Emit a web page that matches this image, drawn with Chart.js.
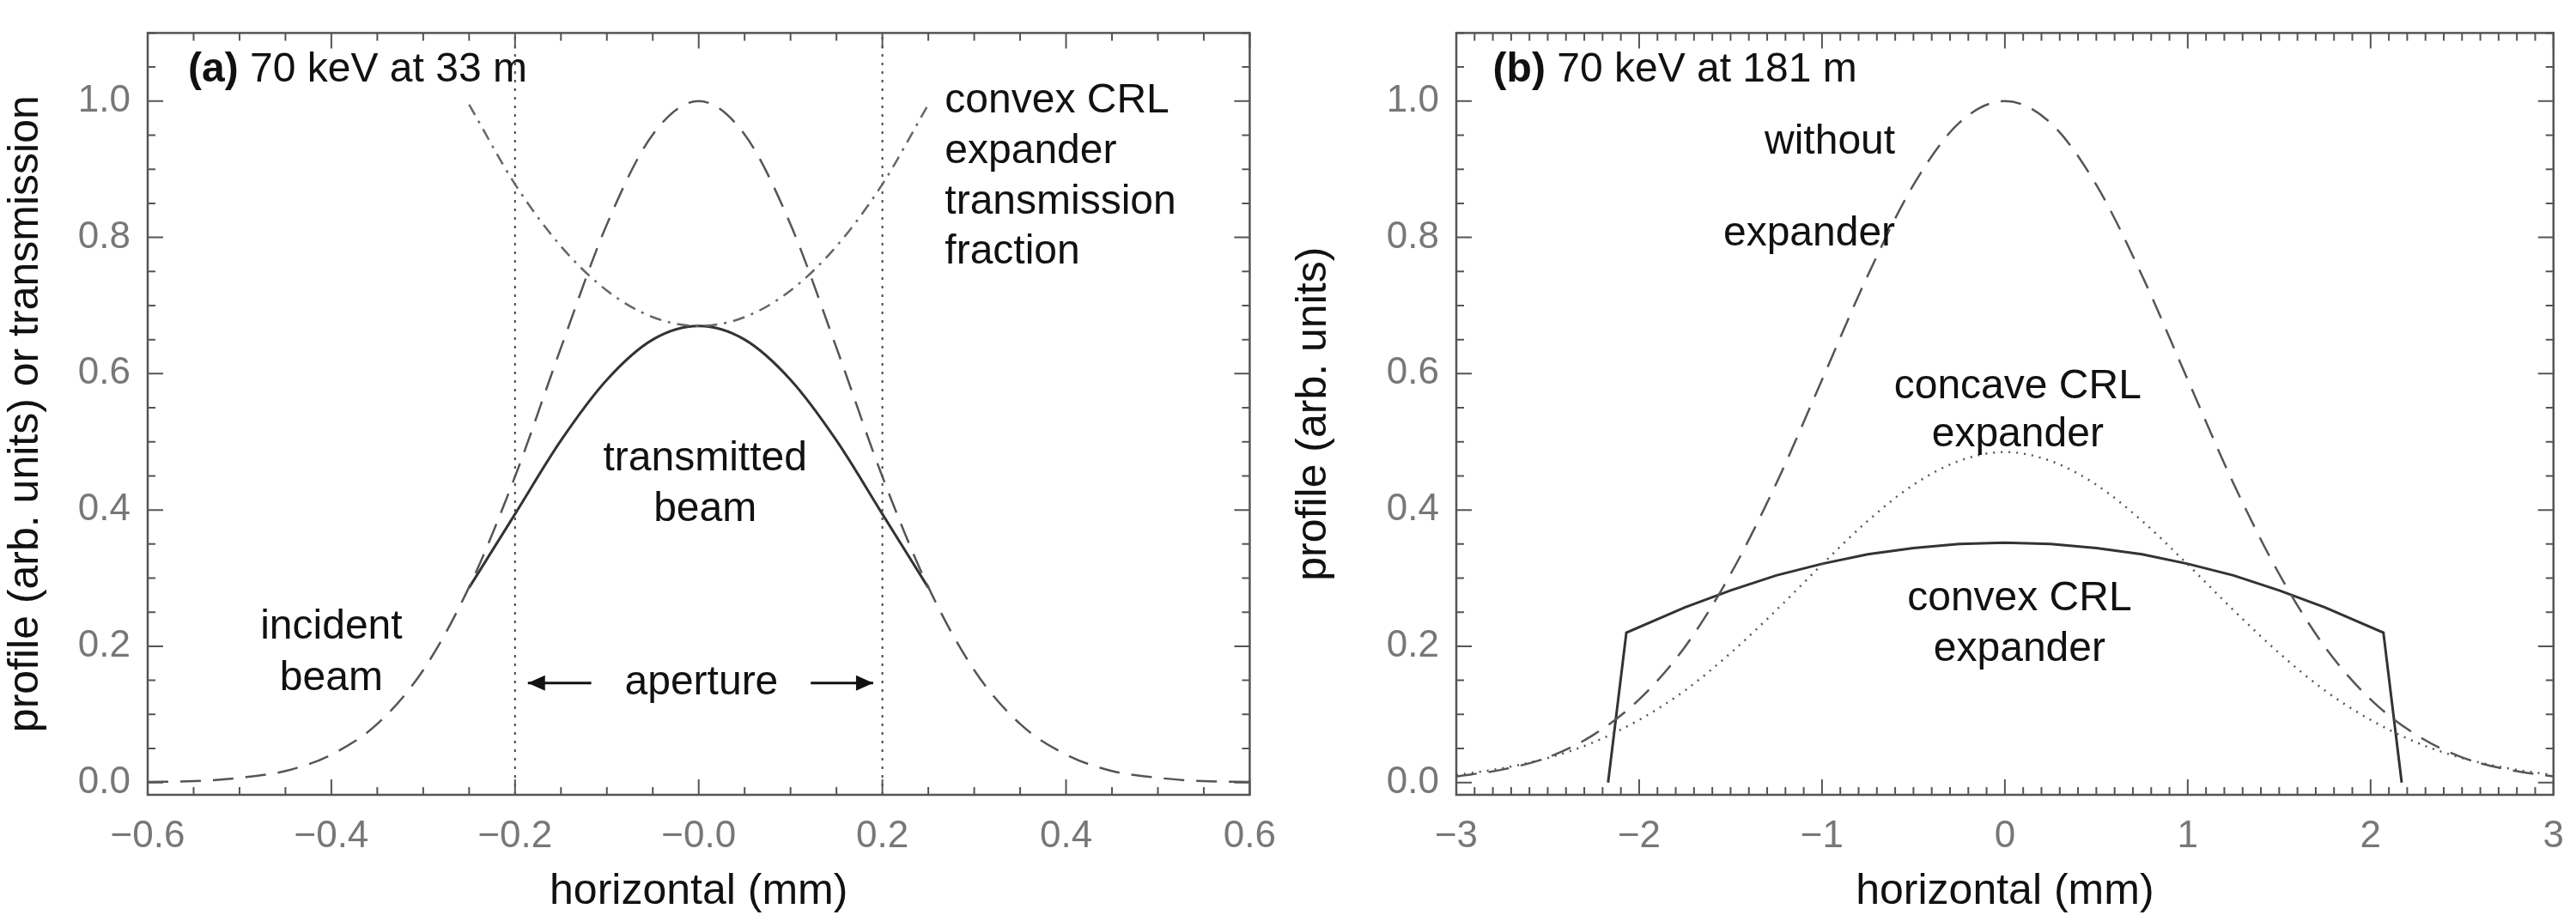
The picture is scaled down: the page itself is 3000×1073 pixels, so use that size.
<!DOCTYPE html>
<html>
<head>
<meta charset="utf-8">
<script src="https://cdn.jsdelivr.net/npm/chart.js@4/dist/chart.umd.min.js"></script>
<style>
  body { margin: 0; background: #fff; }
  .panel { position: absolute; top: 0; width: 1500px; height: 1073px; }
</style>
</head>
<body>
<div class="panel" style="left:0"><canvas id="chartA"></canvas></div>
<div class="panel" style="left:1500px"><canvas id="chartB"></canvas></div>
<script>
// ---- panel (a): 70 keV at 33 m ----
const xIncident = [-0.6,-0.55,-0.5,-0.45,-0.4,-0.35,-0.3,-0.25,-0.2,-0.15,-0.1,-0.05,0,0.05,0.1,0.15,0.2,0.25,0.3,0.35,0.4,0.45,0.5,0.55,0.6];
const incident = [0.001,0.002,0.007,0.017,0.041,0.086,0.165,0.287,0.449,0.638,0.819,0.951,1,0.951,0.819,0.638,0.449,0.287,0.165,0.086,0.041,0.017,0.007,0.002,0.001];
const xTrans = [-0.25,-0.2,-0.15,-0.1,-0.05,0,0.05,0.1,0.15,0.2,0.25];
const transFraction = [0.995,0.878,0.787,0.722,0.683,0.67,0.683,0.722,0.787,0.878,0.995];
const transmitted = [0.286,0.394,0.502,0.591,0.650,0.67,0.650,0.591,0.502,0.394,0.286];
const apertureEdges = [-0.2, 0.2];
const xTicksA = [-0.6,-0.4,-0.2,0,0.2,0.4,0.6];
const xLabelsA = ['\u22120.6','\u22120.4','\u22120.2','\u22120.0','0.2','0.4','0.6'];

// ---- panel (b): 70 keV at 181 m ----
const xB = [-3,-2.75,-2.5,-2.25,-2,-1.75,-1.5,-1.25,-1,-0.75,-0.5,-0.25,0,0.25,0.5,0.75,1,1.25,1.5,1.75,2,2.25,2.5,2.75,3];
const withoutExpander = [0.009,0.019,0.037,0.070,0.122,0.199,0.306,0.439,0.591,0.744,0.877,0.968,1,0.968,0.877,0.744,0.591,0.439,0.306,0.199,0.122,0.070,0.037,0.019,0.009];
const concaveCRL = [0.011,0.021,0.036,0.059,0.092,0.135,0.190,0.253,0.320,0.384,0.437,0.472,0.485,0.472,0.437,0.384,0.320,0.253,0.190,0.135,0.092,0.059,0.036,0.021,0.011];
const xConvex = [-2.17,-2.07,-1.75,-1.5,-1.25,-1,-0.75,-0.5,-0.25,0,0.25,0.5,0.75,1,1.25,1.5,1.75,2.07,2.17];
const convexCRL = [0,0.220,0.257,0.282,0.304,0.321,0.335,0.344,0.350,0.352,0.350,0.344,0.335,0.321,0.304,0.282,0.257,0.220,0];
const xTicksB = [-3,-2,-1,0,1,2,3];
const xLabelsB = ['\u22123','\u22122','\u22121','0','1','2','3'];

const yTicks = [0,0.2,0.4,0.6,0.8,1.0];

const pts = (xs, ys) => xs.map((x, i) => ({ x: x, y: ys[i] }));
const NARROW = '"Liberation Sans Narrow", "Liberation Sans", Arial, sans-serif';

// inward ticks on all four sides + frame
const framePlugin = {
  id: 'frame',
  afterDraw(chart, args, o) {
    const { ctx, chartArea: a, scales: { x, y } } = chart;
    ctx.save();
    ctx.strokeStyle = '#555';
    ctx.lineWidth = 2.5;
    ctx.strokeRect(a.left, a.top, a.right - a.left, a.bottom - a.top);
    const tick = (v, len, isX) => {
      ctx.beginPath();
      if (isX) {
        const p = x.getPixelForValue(v);
        ctx.moveTo(p, a.bottom); ctx.lineTo(p, a.bottom - len);
        ctx.moveTo(p, a.top); ctx.lineTo(p, a.top + len);
      } else {
        const p = y.getPixelForValue(v);
        ctx.moveTo(a.left, p); ctx.lineTo(a.left + len, p);
        ctx.moveTo(a.right, p); ctx.lineTo(a.right - len, p);
      }
      ctx.stroke();
    };
    ctx.lineWidth = 2;
    for (let i = 0; i <= o.xMinorN; i++) {
      const v = o.xMin + i * o.xMinor;
      const major = Math.abs(v / o.xMajor - Math.round(v / o.xMajor)) < 1e-6;
      tick(v, major ? 18 : 9, true);
    }
    for (let i = 0; i <= 22; i++) {
      const v = i * 0.05;
      const major = i % 4 === 0;
      tick(v, major ? 18 : 9, false);
    }
    ctx.fillStyle = '#111';
    ctx.textBaseline = 'middle';
    (o.notes || []).forEach(n => {
      ctx.textAlign = n.align || 'left';
      ctx.font = '48px ' + NARROW;
      const px = x.getPixelForValue(n.x), py = y.getPixelForValue(n.y);
      if (n.bold) {
        ctx.font = 'bold 48px ' + NARROW;
        ctx.fillText(n.bold, px, py);
        const w = ctx.measureText(n.bold + ' ').width;
        ctx.font = '48px ' + NARROW;
        ctx.fillText(n.text, px + w, py);
      } else {
        ctx.fillText(n.text, px, py);
      }
    });
    (o.arrows || []).forEach(ar => {
      const x1 = x.getPixelForValue(ar.from), x2 = x.getPixelForValue(ar.to), py = y.getPixelForValue(ar.y);
      ctx.strokeStyle = '#111'; ctx.lineWidth = 3;
      ctx.beginPath(); ctx.moveTo(x1, py); ctx.lineTo(x2, py); ctx.stroke();
      const d = Math.sign(x2 - x1);
      ctx.beginPath(); ctx.moveTo(x2, py); ctx.lineTo(x2 - d * 20, py - 9); ctx.lineTo(x2 - d * 20, py + 9); ctx.closePath(); ctx.fill();
    });
    ctx.restore();
  }
};

function line(data, dash, color, width, tension) {
  return { data: data, borderColor: color, borderWidth: width, borderDash: dash, pointRadius: 0,
    fill: false, tension: tension, cubicInterpolationMode: tension ? 'monotone' : 'default' };
}

function makeChart(id, datasets, xMin, xMax, xTicks, xLabels, yTitle, yWidth, padRight, frameOpts) {
  return new Chart(document.getElementById(id), {
    type: 'line',
    data: { datasets: datasets },
    options: {
      responsive: true, maintainAspectRatio: false, animation: false,
      layout: { padding: { top: 3, right: padRight, left: 0, bottom: 0 } },
      plugins: { legend: { display: false }, tooltip: { enabled: false }, frame: frameOpts },
      scales: {
        x: {
          type: 'linear', min: xMin, max: xMax,
          afterBuildTicks: s => { s.ticks = xTicks.map(v => ({ value: v })); },
          afterFit: s => { s.height = 147; },
          grid: { display: false }, border: { display: false },
          ticks: { color: '#777', padding: 14, maxRotation: 0, autoSkip: false,
            font: { size: 44, family: NARROW },
            callback: (v) => { const i = xTicks.findIndex(t => Math.abs(t - v) < 1e-6); return i >= 0 ? xLabels[i] : ''; } },
          title: { display: true, text: 'horizontal (mm)', color: '#111', padding: { top: 0 },
            font: { size: 50, family: '"Liberation Sans", Arial, sans-serif' } }
        },
        y: {
          type: 'linear', min: -0.018, max: 1.1,
          afterBuildTicks: s => { s.ticks = yTicks.map(v => ({ value: v })); },
          afterFit: s => { s.width = yWidth; },
          grid: { display: false }, border: { display: false },
          ticks: { color: '#777', padding: 12, font: { size: 44, family: NARROW },
            callback: v => v.toFixed(1) },
          title: { display: true, text: yTitle, color: '#111', padding: 0,
            font: { size: 50, family: '"Liberation Sans", Arial, sans-serif' } }
        }
      }
    },
    plugins: [framePlugin]
  });
}

makeChart('chartA', [
  line(pts(xIncident, incident), [24, 14], '#555', 2.5, 0.4),
  line(pts(xTrans, transFraction), [14, 8, 3, 8], '#666', 2.5, 0.4),
  line(pts(xTrans, transmitted), [], '#333', 3, 0.4),
  line(pts([apertureEdges[0], apertureEdges[0]], [-0.018, 1.1]), [3, 7], '#444', 2, 0),
  line(pts([apertureEdges[1], apertureEdges[1]], [-0.018, 1.1]), [3, 7], '#444', 2, 0)
], -0.6, 0.6, xTicksA, xLabelsA, 'profile (arb. units) or transmission', 172, 31, {
  xMin: -0.6, xMinor: 0.05, xMinorN: 24, xMajor: 0.2,
  notes: [
    { x: -0.556, y: 1.045, bold: '(a)', text: '70 keV at 33 m' },
    { x: 0.268, y: 1.0, text: 'convex CRL' },
    { x: 0.268, y: 0.926, text: 'expander' },
    { x: 0.268, y: 0.852, text: 'transmission' },
    { x: 0.268, y: 0.778, text: 'fraction' },
    { x: 0.007, y: 0.475, text: 'transmitted', align: 'center' },
    { x: 0.007, y: 0.40, text: 'beam', align: 'center' },
    { x: -0.40, y: 0.228, text: 'incident', align: 'center' },
    { x: -0.40, y: 0.152, text: 'beam', align: 'center' },
    { x: 0.003, y: 0.146, text: 'aperture', align: 'center' }
  ],
  arrows: [ { from: -0.117, to: -0.186, y: 0.146 }, { from: 0.122, to: 0.19, y: 0.146 } ]
});

makeChart('chartB', [
  line(pts(xB, withoutExpander), [24, 14], '#555', 2.5, 0.4),
  line(pts(xB, concaveCRL), [2, 7], '#555', 2.5, 0.4),
  line(pts(xConvex, convexCRL), [], '#333', 3, 0)
], -3, 3, xTicksB, xLabelsB, 'profile (arb. units)', 196, 22, {
  xMin: -3, xMinor: 0.1, xMinorN: 60, xMajor: 1,
  notes: [
    { x: -2.8, y: 1.045, bold: '(b)', text: '70 keV at 181 m' },
    { x: -0.60, y: 0.94, text: 'without', align: 'right' },
    { x: -0.60, y: 0.805, text: 'expander', align: 'right' },
    { x: 0.07, y: 0.58, text: 'concave CRL', align: 'center' },
    { x: 0.07, y: 0.51, text: 'expander', align: 'center' },
    { x: 0.08, y: 0.27, text: 'convex CRL', align: 'center' },
    { x: 0.08, y: 0.195, text: 'expander', align: 'center' }
  ]
});
</script>
</body>
</html>
